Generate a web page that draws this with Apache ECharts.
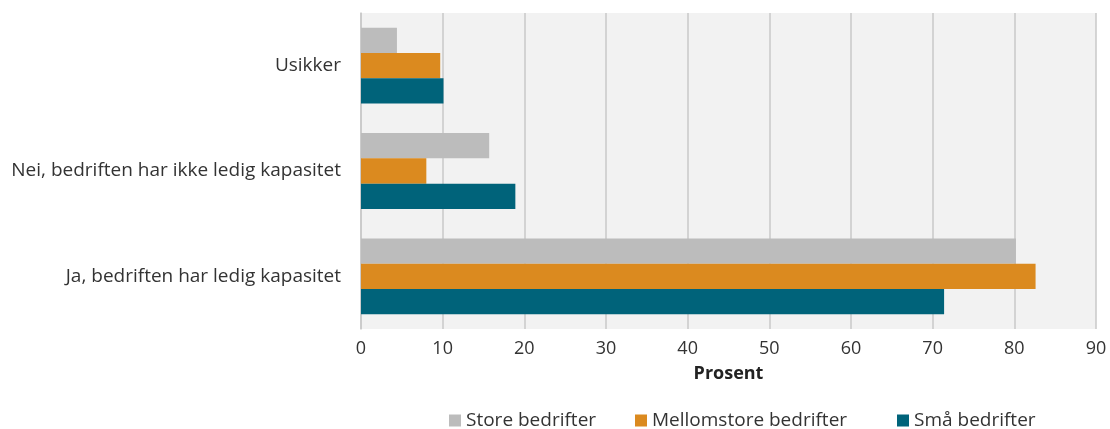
<!DOCTYPE html>
<html>
<head>
<meta charset="utf-8">
<script src="https://cdn.jsdelivr.net/npm/echarts@6/dist/echarts.min.js"></script>
<style>
html,body{margin:0;padding:0;background:#fff;}
#chart{width:1110px;height:429px;}
</style>
</head>
<body>
<div id="chart"></div>
<script>
const categories = ['Usikker', 'Nei, bedriften har ikke ledig kapasitet', 'Ja, bedriften har ledig kapasitet'];
const seriesNames = ['Store bedrifter', 'Mellomstore bedrifter', 'Små bedrifter'];
const storeValues = [4.4, 15.7, 80.2];
const mellomValues = [9.7, 8.0, 82.6];
const smaValues = [10.1, 18.9, 71.4];
const xTicks = [0, 10, 20, 30, 40, 50, 60, 70, 80, 90];
const colors = ['#bcbcbc', '#db8a1f', '#00637a'];

const FONT = '"Open Sans"';
const chart = echarts.init(document.getElementById('chart'), null, {renderer: 'canvas'});
const dataSets = [storeValues, mellomValues, smaValues];
const legendLefts = [449, 635, 897];
chart.setOption({
  animation: false,
  textStyle: {fontFamily: FONT},
  grid: {left: 361, right: 14, top: 13, bottom: 100, show: true, backgroundColor: '#f2f2f2', borderWidth: 0},
  legend: seriesNames.map((n, i) => ({
    top: 411, left: legendLefts[i], padding: 0,
    itemWidth: 12, itemHeight: 12, itemGap: 40,
    icon: 'rect',
    textStyle: {fontSize: 19, color: '#333', fontFamily: FONT},
    data: [n]
  })),
  xAxis: {
    type: 'value', min: xTicks[0], max: xTicks[xTicks.length - 1], interval: 10,
    name: 'Prosent', nameLocation: 'middle', nameGap: 36,
    nameTextStyle: {fontSize: 18, fontWeight: 'bold', color: '#222', fontFamily: FONT},
    axisLine: {show: false},
    axisTick: {show: false},
    axisLabel: {fontSize: 18, color: '#333', margin: 11, fontFamily: FONT},
    splitLine: {show: true, lineStyle: {color: '#c8c8c8', width: 1.5}}
  },
  yAxis: {
    type: 'category', inverse: true, data: categories,
    axisLine: {show: true, lineStyle: {color: '#c8c8c8', width: 1.5}},
    axisTick: {show: false},
    axisLabel: {fontSize: 19, color: '#333', margin: 20, fontFamily: FONT, padding: [6, 0, 0, 0]}
  },
  series: seriesNames.map((n, i) => ({
    name: n, type: 'bar', data: dataSets[i],
    barGap: '0%', barCategoryGap: '28%',
    itemStyle: {color: colors[i]}
  }))
});
</script>
</body>
</html>
